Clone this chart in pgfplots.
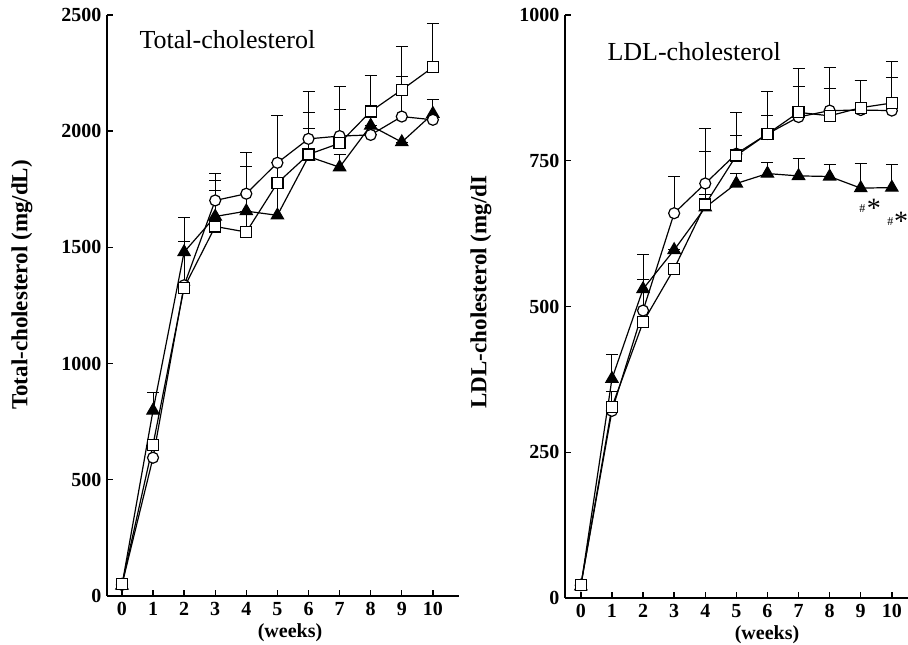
\documentclass[border=0pt]{standalone}
\usepackage{pgfplots}
\pgfplotsset{compat=1.18}
\usepackage{fontspec}
\setmainfont{Liberation Serif}

\pgfplotsset{
  panel/.style={
    scale only axis, clip=false,
    axis x line=bottom, axis y line=left,
    axis line style={line width=1.8pt,-},
    tick align=inside, major tick length=6pt,
    tick style={line width=1.4pt,black},
    xtick={0,...,10},
    ticklabel style={font=\fontsize{20}{20}\selectfont\bfseries},
    xticklabel style={yshift=-3pt},
    yticklabel style={xshift=-2pt},
    /pgf/number format/assume math mode=true,
    /pgf/number format/1000 sep={},
    error bars/y dir=plus, error bars/y explicit,
    error bars/error bar style={line width=1pt,black},
    error bars/error mark options={line width=1pt,black,mark size=6pt,rotate=90},
  },
  ser/.style={black, line width=1.2pt, mark options={solid,line width=1.1pt}},
  circ/.style={ser, mark=*, mark size=5.5pt, mark options={fill=white,draw=black}},
  sq/.style={ser, mark=square*, mark size=5.5pt, mark options={fill=white,draw=black}},
  tri/.style={ser, mark=triangle*, mark size=7pt, mark options={fill=black,draw=black}},
}

\begin{document}
\begin{tikzpicture}[x=1pt,y=1pt]
\useasboundingbox (0,0) rectangle (908,645);

% Total cholesterol
\begin{axis}[panel, at={(107pt,49pt)}, anchor=south west,
  width=352pt, height=581pt,
  xmin=-0.48, xmax=10.84, ymin=0, ymax=2500,
  ytick={0,500,1000,1500,2000,2500}]
\addplot[tri] coordinates {
  (0,45) +- (0,0) (1,798) +- (0,79) (2,1480) +- (0,148) (3,1633) +- (0,155)
  (4,1656) +- (0,0) (5,1638) +- (0,430) (6,1891) +- (0,122) (7,1845) +- (0,55)
  (8,2024) +- (0,0) (9,1953) +- (0,0) (10,2075) +- (0,60)};
\addplot[circ] coordinates {
  (0,48) +- (0,0) (1,595) +- (0,0) (2,1337) +- (0,190) (3,1702) +- (0,117)
  (4,1731) +- (0,179) (5,1864) +- (0,0) (6,1967) +- (0,204) (7,1979) +- (0,213)
  (8,1984) +- (0,0) (9,2063) +- (0,172) (10,2049) +- (0,0)};
\addplot[sq] coordinates {
  (0,50) +- (0,0) (1,651) +- (0,0) (2,1327) +- (0,0) (3,1590) +- (0,155)
  (4,1566) +- (0,284) (5,1777) +- (0,0) (6,1900) +- (0,182) (7,1948) +- (0,144)
  (8,2085) +- (0,154) (9,2178) +- (0,187) (10,2275) +- (0,189)};
\end{axis}

% LDL cholesterol
\begin{axis}[panel, at={(565pt,47pt)}, anchor=south west,
  width=343pt, height=583pt,
  xmin=-0.51, xmax=10.52, ymin=0, ymax=1000,
  ytick={0,250,500,750,1000}]
\addplot[tri] coordinates {
  (0,20) +- (0,0) (1,376) +- (0,41) (2,530) +- (0,59) (3,597) +- (0,0)
  (4,670) +- (0,22) (5,711) +- (0,17) (6,728) +- (0,19) (7,724) +- (0,30)
  (8,723) +- (0,21) (9,703) +- (0,43) (10,704) +- (0,40)};
\addplot[circ] coordinates {
  (0,22) +- (0,0) (1,321) +- (0,0) (2,493) +- (0,53) (3,660) +- (0,63)
  (4,711) +- (0,94) (5,762) +- (0,71) (6,796) +- (0,31) (7,825) +- (0,53)
  (8,836) +- (0,74) (9,837) +- (0,50) (10,836) +- (0,57)};
\addplot[sq] coordinates {
  (0,22) +- (0,0) (1,328) +- (0,27) (2,473) +- (0,0) (3,565) +- (0,0)
  (4,675) +- (0,91) (5,759) +- (0,34) (6,796) +- (0,72) (7,833) +- (0,75)
  (8,827) +- (0,47) (9,841) +- (0,46) (10,849) +- (0,71)};
\node[font=\fontsize{12}{12}\selectfont] at (axis cs:9.05,668) {\#};
\node[font=\fontsize{28}{28}\selectfont] at (axis cs:9.42,668) {*};
\node[font=\fontsize{12}{12}\selectfont] at (axis cs:9.95,646) {\#};
\node[font=\fontsize{28}{28}\selectfont] at (axis cs:10.3,646) {*};
\end{axis}

% titles and labels
\node[anchor=west, font=\fontsize{26}{26}\selectfont] at (136,605) {Total-cholesterol};
\node[anchor=west, font=\fontsize{26}{26}\selectfont] at (604,593) {LDL-cholesterol};
\node[rotate=90, font=\fontsize{23}{23}\selectfont\bfseries] at (22,360) {Total-cholesterol (mg/dL)};
\node[rotate=90, font=\fontsize{23}{23}\selectfont\bfseries] at (481,353) {LDL-cholesterol (mg/dI};
\node[font=\fontsize{20}{20}\selectfont\bfseries] at (290,12) {(weeks)};
\node[font=\fontsize{20}{20}\selectfont\bfseries] at (767,10) {(weeks)};
\end{tikzpicture}
\end{document}
